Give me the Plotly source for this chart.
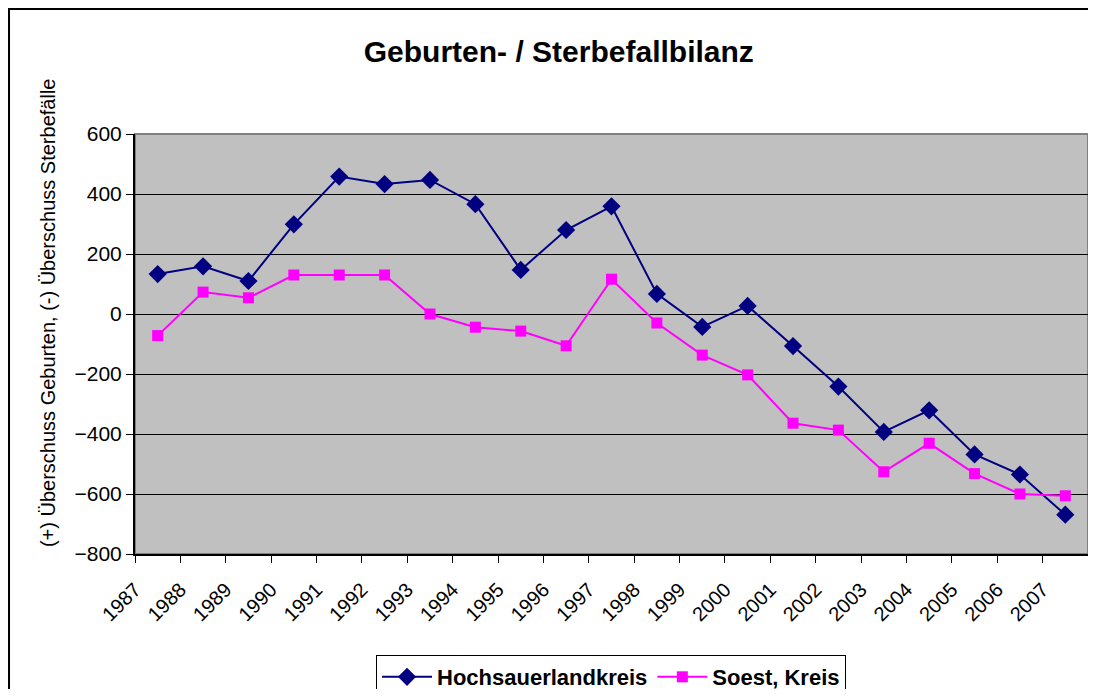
import plotly.graph_objects as go


# ==================================
# DATA
# ==================================

years = list(range(1987, 2008))

hochsauerland = [133, 159, 110, 299, 458, 433, 447, 366, 147, 280, 359,
                 67, -43, 27, -107, -242, -393, -321, -468, -535, -669]

soest = [-72, 73, 54, 130, 130, 130, 0, -44, -57, -106, 116,
         -30, -137, -203, -364, -387, -526, -431, -532, -600, -606]

year_labels = [str(y) for y in years]

y_title = "(+) Überschuss Geburten, (-) Überschuss Sterbefälle"

FONT = "Liberation Sans, Arial, sans-serif"


# ==================================
# GEBURTEN / STERBEFALL CHART
# ==================================

def bilanz_chart():

    fig = go.Figure()

    fig.add_trace(go.Scatter(
        x=years,
        y=hochsauerland,
        name="Hochsauerlandkreis",
        mode="lines+markers",
        line=dict(color="#000080", width=2),
        marker=dict(symbol="diamond", size=14, color="#000080")
    ))

    fig.add_trace(go.Scatter(
        x=years,
        y=soest,
        name="Soest, Kreis",
        mode="lines+markers",
        line=dict(color="#FF00FF", width=2),
        marker=dict(symbol="square", size=11, color="#FF00FF")
    ))

    # ticks on the category boundaries, labels at the left boundary
    tick_pos = [y - 0.5 for y in years] + [years[-1] + 0.5]
    tick_txt = year_labels + [""]

    fig.update_layout(
        width=1080,
        height=681,
        margin=dict(l=127, r=0, t=126, b=135, autoexpand=False),
        paper_bgcolor="white",
        plot_bgcolor="rgba(0,0,0,0)",
        font=dict(family=FONT, size=20, color="black"),
        title=dict(
            text="<b>Geburten- / Sterbefallbilanz</b>",
            x=0.510,
            xanchor="center",
            xref="container",
            y=0.9354,
            yanchor="middle",
            yref="container",
            font=dict(size=30, family=FONT, color="black")
        ),
        showlegend=True,
        legend=dict(
            orientation="h",
            x=0.4995,
            xanchor="center",
            y=-0.2405,
            yanchor="top",
            bgcolor="white",
            bordercolor="black",
            borderwidth=1,
            font=dict(size=22, family=FONT, color="black", weight="bold"),
            itemwidth=50,
            tracegroupgap=0
        ),
        annotations=[
            dict(
                text=y_title,
                textangle=-90,
                xref="paper", yref="paper",
                x=-0.0913, y=0.576,
                xanchor="center", yanchor="middle",
                showarrow=False,
                font=dict(size=20, family=FONT, color="black")
            )
        ],
        shapes=[
            dict(
                type="rect", xref="paper", yref="paper", layer="below",
                x0=-0.1322, x1=1.05, y0=-0.5, y1=1.2976,
                fillcolor="white", line=dict(color="black", width=2)
            ),
            dict(
                type="rect", xref="paper", yref="paper", layer="below",
                x0=0, x1=1, y0=0, y1=1,
                fillcolor="#C0C0C0", line=dict(color="#808080", width=2)
            ),
        ]
    )

    fig.update_xaxes(
        range=[years[0] - 0.5, years[-1] + 0.5],
        tickmode="array",
        tickvals=tick_pos,
        ticktext=tick_txt,
        tickangle=-45,
        ticks="outside",
        ticklen=7,
        tickwidth=1,
        tickcolor="black",
        ticklabelstandoff=7,
        showgrid=False,
        zeroline=False,
        showline=True,
        linecolor="black",
        linewidth=2,
        tickfont=dict(size=20),
        automargin=False
    )

    fig.update_yaxes(
        range=[-800, 600],
        dtick=200,
        tick0=0,
        ticks="outside",
        ticklen=7,
        tickwidth=1,
        tickcolor="black",
        showgrid=True,
        gridcolor="black",
        gridwidth=1,
        zeroline=False,
        showline=True,
        linecolor="black",
        linewidth=2,
        tickfont=dict(size=21),
        automargin=False
    )

    return fig


fig = bilanz_chart()
fig.write_html("out.html")
